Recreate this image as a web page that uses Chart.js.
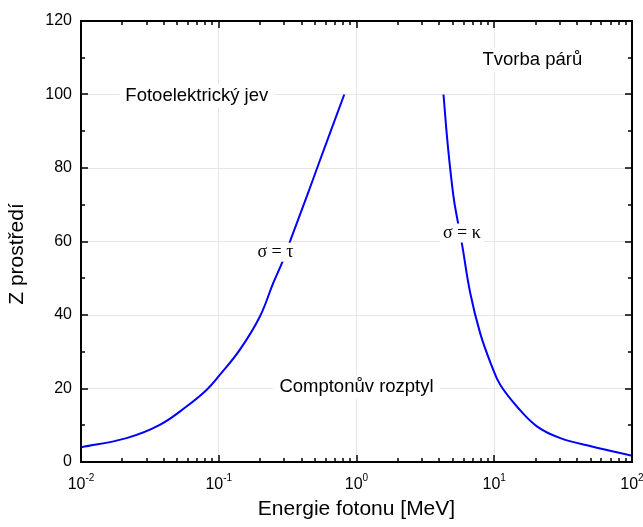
<!DOCTYPE html>
<html>
<head>
<meta charset="utf-8">
<script src="https://cdn.jsdelivr.net/npm/chart.js@4/dist/chart.umd.min.js"></script>
<style>
  html, body { margin: 0; padding: 0; background: #fff; }
</style>
</head>
<body>
<canvas id="chart" width="643" height="527"></canvas>
<script>
// sigma = tau boundary (photo effect vs Compton)
const photoEnergy = [0.01, 0.0214, 0.0373, 0.0583, 0.0815, 0.1018, 0.142, 0.199, 0.248, 0.294, 0.339, 0.435, 0.543, 0.815];
const photoZ = [4.0, 6.5, 10.1, 15.1, 19.6, 23.7, 30.5, 39.6, 48.6, 55.0, 61.3, 72.2, 82.1, 100];

// sigma = kappa boundary (Compton vs pair production)
const pairEnergy = [4.28, 4.61, 5.06, 5.41, 5.82, 6.70, 7.91, 9.62, 11.05, 14.6, 20.4, 30.2, 52.8, 100];
const pairZ = [100, 85.8, 72.2, 65.8, 59.5, 45.9, 35.0, 26.0, 21.0, 15.1, 9.7, 6.5, 4.1, 1.7];

const xDecades = [0.01, 0.1, 1, 10, 100];
const xExponents = ["-2", "-1", "0", "1", "2"];
const yMajor = [0, 20, 40, 60, 80, 100, 120];
const yMinor = [10, 30, 50, 70, 90, 110];

const regionLabels = ["Fotoelektrický jev", "Tvorba párů", "Comptonův rozptyl"];
const regionX = [0.0693, 18.9, 1.0];
const regionY = [99.6, 109.3, 20.5];

const curveLabels = ["σ = τ", "σ = κ"];
const curveLabelX = [0.258, 5.82];
const curveLabelY = [57.1, 62.3];

const SANS = "'Liberation Sans', Arial, sans-serif";
const SERIF = "'Liberation Serif', 'Times New Roman', serif";

const toPoints = (xs, ys) => xs.map((x, i) => ({ x: x, y: ys[i] }));

// text with white box behind it
const boxedText = (ctx, text, x, y, font, padX, padY, size) => {
  ctx.font = font;
  const w = ctx.measureText(text).width;
  ctx.fillStyle = "#fff";
  ctx.fillRect(x - w / 2 - padX, y - size / 2 - padY, w + 2 * padX, size + 2 * padY);
  ctx.fillStyle = "#000";
  ctx.textAlign = "center";
  ctx.textBaseline = "middle";
  ctx.fillText(text, x, y);
};

const frameAndLabels = {
  id: "frameAndLabels",
  afterDatasetsDraw: (chart) => {
    const ctx = chart.ctx;
    const xs = chart.scales.x;
    const ys = chart.scales.y;
    const a = chart.chartArea;
    ctx.save();

    // annotations
    regionLabels.forEach((t, i) => {
      boxedText(ctx, t, xs.getPixelForValue(regionX[i]), ys.getPixelForValue(regionY[i]),
        "18.5px " + SANS, 6, 3, 18);
    });
    curveLabels.forEach((t, i) => {
      boxedText(ctx, t, xs.getPixelForValue(curveLabelX[i]), ys.getPixelForValue(curveLabelY[i]),
        "18px " + SERIF, 3, 1, 17);
    });

    // inward ticks, all four sides
    ctx.strokeStyle = "#000";
    ctx.lineWidth = 1.5;
    ctx.beginPath();
    const xTick = (v, len) => {
      const px = Math.round(xs.getPixelForValue(v));
      ctx.moveTo(px, a.bottom); ctx.lineTo(px, a.bottom - len);
      ctx.moveTo(px, a.top); ctx.lineTo(px, a.top + len);
    };
    const yTick = (v, len) => {
      const py = Math.round(ys.getPixelForValue(v));
      ctx.moveTo(a.left, py); ctx.lineTo(a.left + len, py);
      ctx.moveTo(a.right, py); ctx.lineTo(a.right - len, py);
    };
    xDecades.forEach((d) => xTick(d, 7));
    xDecades.slice(0, -1).forEach((d) => {
      for (let m = 2; m <= 9; m++) xTick(d * m, 4);
    });
    yMajor.forEach((v) => yTick(v, 7));
    yMinor.forEach((v) => yTick(v, 4));
    ctx.stroke();

    // frame
    ctx.lineWidth = 2;
    ctx.strokeRect(a.left, a.top, a.right - a.left, a.bottom - a.top);

    // x tick labels 10^n
    ctx.fillStyle = "#000";
    ctx.textBaseline = "alphabetic";
    ctx.textAlign = "left";
    xDecades.forEach((d, i) => {
      ctx.font = "16px " + SANS;
      const wBase = ctx.measureText("10").width;
      ctx.font = "10px " + SANS;
      const wExp = ctx.measureText(xExponents[i]).width;
      const x0 = xs.getPixelForValue(d) - (wBase + wExp) / 2;
      ctx.font = "16px " + SANS;
      ctx.fillText("10", x0, 489);
      ctx.font = "10px " + SANS;
      ctx.fillText(xExponents[i], x0 + wBase, 481);
    });

    // y axis title, sits a bit below the middle of the plot
    ctx.font = "21px " + SANS;
    ctx.textAlign = "center";
    ctx.textBaseline = "middle";
    ctx.translate(17, 254);
    ctx.rotate(-Math.PI / 2);
    ctx.fillText("Z prostředí", 0, 0);

    ctx.restore();
  },
};

new Chart(document.getElementById("chart"), {
  type: "scatter",
  data: {
    datasets: [
      {
        label: "sigma = tau",
        data: toPoints(photoEnergy, photoZ),
        showLine: true,
        borderColor: "#0000ff",
        borderWidth: 2,
        pointRadius: 0,
        tension: 0.4,
      },
      {
        label: "sigma = kappa",
        data: toPoints(pairEnergy, pairZ),
        showLine: true,
        borderColor: "#0000ff",
        borderWidth: 2,
        pointRadius: 0,
        tension: 0.4,
      },
    ],
  },
  plugins: [frameAndLabels],
  options: {
    responsive: false,
    animation: false,
    devicePixelRatio: 1,
    layout: { padding: { left: 0, right: 11, top: 21, bottom: 0 } },
    plugins: {
      legend: { display: false },
      tooltip: { enabled: false },
    },
    scales: {
      x: {
        type: "logarithmic",
        min: 0.01,
        max: 100,
        afterBuildTicks: (s) => {
          s.ticks = xDecades.map((v) => ({ value: v }));
        },
        afterFit: (s) => {
          s.height = 65;
        },
        ticks: { display: false },
        grid: { color: "#e6e6e6", lineWidth: 1, drawTicks: false },
        border: { display: false },
        title: {
          display: true,
          text: "Energie fotonu [MeV]",
          color: "#000",
          font: { family: SANS, size: 21 },
          padding: { top: 0, bottom: 5 },
        },
      },
      y: {
        min: 0,
        max: 120,
        afterBuildTicks: (s) => {
          s.ticks = yMajor.map((v) => ({ value: v }));
        },
        afterFit: (s) => {
          s.width = 81;
        },
        ticks: {
          color: "#000",
          padding: 9,
          font: { family: SANS, size: 16 },
        },
        grid: { color: "#e6e6e6", lineWidth: 1, drawTicks: false },
        border: { display: false },
      },
    },
  },
});
</script>
</body>
</html>
